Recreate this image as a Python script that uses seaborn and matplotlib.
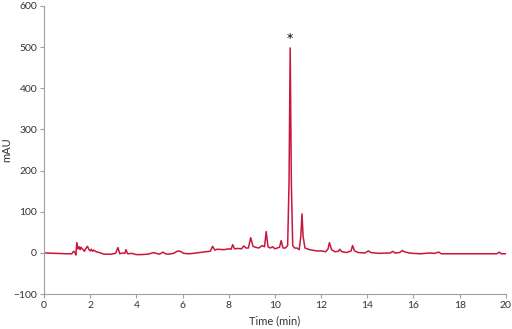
import matplotlib
matplotlib.use("Agg")
import matplotlib.pyplot as plt
import seaborn as sns
import pandas as pd

time_min = [0.0, 0.5, 1.0, 1.2, 1.28, 1.33, 1.38, 1.42, 1.47, 1.52, 1.56, 1.6, 1.65, 1.7, 1.75, 1.8, 1.88, 1.95, 2.0, 2.05, 2.1, 2.15, 2.25, 2.4, 2.6, 2.9, 3.1, 3.2, 3.28, 3.4, 3.5, 3.55, 3.62, 3.8, 4.0, 4.2, 4.5, 4.75, 4.85, 5.0, 5.15, 5.25, 5.4, 5.6, 5.8, 5.9, 6.05, 6.3, 6.6, 7.0, 7.2, 7.3, 7.4, 7.5, 7.8, 8.0, 8.1, 8.17, 8.25, 8.4, 8.55, 8.65, 8.75, 8.85, 8.95, 9.05, 9.15, 9.3, 9.45, 9.55, 9.62, 9.7, 9.8, 9.9, 10.0, 10.1, 10.2, 10.27, 10.35, 10.45, 10.55, 10.61, 10.66, 10.71, 10.77, 10.85, 10.95, 11.05, 11.12, 11.17, 11.22, 11.3, 11.5, 11.8, 12.0, 12.2, 12.3, 12.36, 12.45, 12.6, 12.75, 12.8, 12.9, 13.1, 13.3, 13.36, 13.45, 13.6, 13.9, 14.05, 14.15, 14.5, 15.0, 15.1, 15.2, 15.4, 15.52, 15.6, 15.8, 16.0, 16.3, 16.5, 16.7, 16.9, 17.1, 17.2, 17.5, 18.0, 19.0, 19.6, 19.72, 19.8, 20.0]
absorbance_mau = [0.0, -1.0, -2.0, -2.0, 4.0, 2.0, -5.0, 25.0, 10.0, 15.0, 8.0, 14.0, 10.0, 8.0, 4.0, 10.0, 16.0, 8.0, 5.0, 9.0, 4.0, 7.0, 3.0, 1.0, -3.0, -3.0, -1.0, 13.0, -2.0, 0.0, -1.0, 8.0, -2.0, -1.0, -4.0, -4.0, -3.0, 1.0, -1.0, -3.0, 2.0, -2.0, -3.0, -1.0, 5.0, 4.0, -1.0, -2.0, 0.0, 3.0, 4.0, 16.0, 7.0, 9.0, 8.0, 10.0, 9.0, 20.0, 10.0, 11.0, 10.0, 17.0, 12.0, 12.0, 37.0, 16.0, 14.0, 12.0, 18.0, 15.0, 52.0, 15.0, 12.0, 15.0, 10.0, 12.0, 14.0, 30.0, 12.0, 12.0, 18.0, 170.0, 498.0, 170.0, 18.0, 12.0, 12.0, 8.0, 40.0, 95.0, 40.0, 12.0, 8.0, 5.0, 5.0, 3.0, 10.0, 25.0, 8.0, 3.0, 4.0, 9.0, 3.0, 1.0, 5.0, 18.0, 5.0, 1.0, 0.0, 5.0, 1.0, -1.0, 0.0, 4.0, 0.0, 1.0, 6.0, 3.0, 0.0, -1.0, -2.0, -1.0, 0.0, -1.0, 2.0, -2.0, -2.0, -2.0, -2.0, -2.0, 2.0, -2.0, -2.0]

df = pd.DataFrame({"Time (min)": time_min, "mAU": absorbance_mau})

sns.set_style("white")
plt.rcParams["font.family"] = ["Lato", "DejaVu Sans"]

fig = plt.figure(figsize=(5.12, 3.29), dpi=100)
ax = fig.add_axes([0.086, 0.106, 0.902, 0.876])
sns.lineplot(data=df, x="Time (min)", y="mAU", ax=ax, color="#C8163E", linewidth=1.1)

ax.set_xlim(0, 20)
ax.set_ylim(-100, 600)
ax.set_xticks(range(0, 21, 2))
ax.set_yticks(range(-100, 601, 100))
for s in ["top", "right"]:
    ax.spines[s].set_visible(False)
for s in ["left", "bottom"]:
    ax.spines[s].set_color("#A0A0A0")
    ax.spines[s].set_linewidth(0.8)
ax.tick_params(axis="both", which="both", direction="out", length=3, width=0.8,
               color="#A0A0A0", labelsize=7.5, labelcolor="#333333", pad=2,
               bottom=True, left=True)
ax.set_xlabel("Time (min)", fontsize=8, color="#333333", labelpad=4)
ax.set_ylabel("mAU", fontsize=8, color="#333333")
ax.yaxis.set_label_coords(-0.068, 0.5)
ax.text(10.65, 505, "*", ha="center", va="bottom", fontsize=9, color="black",
        family=["DejaVu Sans"])

fig.savefig("out.png", dpi=100)
